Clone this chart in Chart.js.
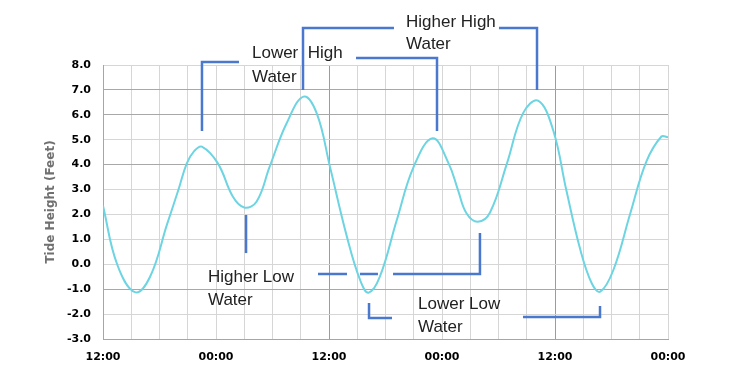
<!DOCTYPE html>
<html>
<head>
<meta charset="utf-8">
<script src="https://cdn.jsdelivr.net/npm/chart.js@4/dist/chart.umd.min.js"></script>
<style>
    body { margin: 0; background: #fff; }
</style>
</head>
<body>
<canvas id="tide_chart" width="750" height="378"></canvas>
<script>
// hours since the first 12:00 and tide height in feet
var hours = [0, 1.5, 3.4, 5.0, 6.8, 8.0, 8.9, 9.7, 10.5, 12.2, 13.8, 15.0, 16.3, 17.7, 19.5, 21.3, 22.7, 24.1, 25.9, 27.3, 28.2, 29.4, 31.2, 33.0, 35.0, 36.7, 37.7, 38.6, 39.8, 41.1, 42.9, 44.6, 46.2, 47.8, 49.2, 50.7, 51.9, 52.8, 54.2, 56.0, 57.7, 59.3, 60];
var heights = [2.35, 0.0, -1.12, -0.5, 1.6, 2.98, 4.05, 4.55, 4.72, 4.05, 2.71, 2.28, 2.51, 3.92, 5.66, 6.73, 6.06, 3.92, 1.11, -0.63, -1.14, -0.5, 1.78, 3.92, 5.06, 4.05, 2.98, 2.05, 1.71, 2.08, 4.05, 6.06, 6.57, 5.39, 2.98, 0.57, -0.76, -1.1, -0.23, 2.05, 4.12, 5.13, 5.1];
var timeLabels = ['12:00', '00:00'];
var yTitle = 'Tide Height (Feet)';

// callout brackets, in [hour, feet]
var brackets = [
    [[10.51, 5.35], [10.51, 8.12], [14.44, 8.12]],
    [[26.87, 8.28], [35.47, 8.28], [35.47, 5.35]],
    [[21.24, 7.0], [21.24, 9.49], [30.90, 9.49]],
    [[42.05, 9.49], [46.09, 9.49], [46.09, 7.0]],
    [[15.19, 1.98], [15.19, 0.45]],
    [[22.83, -0.39], [25.91, -0.39]],
    [[27.29, -0.39], [29.20, -0.39]],
    [[30.80, -0.39], [40.03, -0.39], [40.03, 1.26]],
    [[28.25, -1.55], [28.25, -2.16], [30.69, -2.16]],
    [[44.60, -2.12], [52.78, -2.12], [52.78, -1.68]]
];
var callouts = [
    { text: 'Lower  High', at: [15.82, 8.48] },
    { text: 'Water', at: [15.82, 7.52] },
    { text: 'Higher High', at: [32.18, 9.73] },
    { text: 'Water', at: [32.18, 8.84] },
    { text: 'Higher Low', at: [11.15, -0.51] },
    { text: 'Water', at: [11.15, -1.43] },
    { text: 'Lower Low', at: [33.45, -1.59] },
    { text: 'Water', at: [33.45, -2.52] }
];

var points = hours.map(function (h, i) { return { x: h, y: heights[i] }; });

var calloutPlugin = {
    id: 'callouts',
    afterDraw: function (chart) {
        var c = chart.ctx;
        var xs = chart.scales.x, ys = chart.scales.y;
        c.save();
        c.strokeStyle = '#4a78cf';
        c.lineWidth = 2.5;
        brackets.forEach(function (b) {
            c.beginPath();
            b.forEach(function (p, i) {
                var px = xs.getPixelForValue(p[0]), py = ys.getPixelForValue(p[1]);
                if (i === 0) c.moveTo(px, py); else c.lineTo(px, py);
            });
            c.stroke();
        });
        c.fillStyle = '#222';
        c.font = '17px "Liberation Sans", Arial, sans-serif';
        c.textAlign = 'left';
        c.textBaseline = 'middle';
        callouts.forEach(function (t) {
            c.fillText(t.text, xs.getPixelForValue(t.at[0]), ys.getPixelForValue(t.at[1]));
        });
        c.restore();
    }
};

var tickFont = { family: '"DejaVu Sans", sans-serif', size: 11, weight: 'bold' };

new Chart(document.getElementById('tide_chart'), {
    type: 'line',
    data: {
        datasets: [{
            data: points,
            borderColor: '#6dd4e2',
            borderWidth: 2,
            pointRadius: 0,
            tension: 0.4,
            fill: false
        }]
    },
    options: {
        responsive: false,
        animation: false,
        layout: { padding: { left: 0, right: 82, top: 65, bottom: 0 } },
        plugins: { legend: { display: false }, tooltip: { enabled: false } },
        scales: {
            x: {
                type: 'linear',
                min: 0,
                max: 60,
                afterFit: function (scale) { scale.height = 39; },
                grid: {
                    drawTicks: false,
                    color: function (ctx) {
                        var v = ctx.tick ? ctx.tick.value : 0;
                        return (v === 24 || v === 48) ? '#9c9c9c' : '#d6d6d6';
                    }
                },
                border: { color: '#a6a6a6' },
                ticks: {
                    stepSize: 3,
                    autoSkip: false,
                    maxRotation: 0,
                    padding: 12,
                    color: '#000',
                    font: tickFont,
                    callback: function (v) {
                        if (v % 12 !== 0) return '';
                        return timeLabels[(v / 12) % 2];
                    }
                }
            },
            y: {
                min: -3,
                max: 8,
                afterFit: function (scale) { scale.width = 103; },
                grid: {
                    drawTicks: false,
                    color: function (ctx) {
                        var v = ctx.tick ? ctx.tick.value : 0;
                        return [7, 6, 4, -1].indexOf(v) >= 0 ? '#a8a8a8' : '#d6d6d6';
                    }
                },
                border: { color: '#a6a6a6' },
                ticks: {
                    stepSize: 1,
                    padding: 12,
                    color: '#000',
                    font: tickFont,
                    callback: function (v) { return v.toFixed(1); }
                },
                title: {
                    display: true,
                    text: yTitle,
                    color: '#707070',
                    font: { family: '"DejaVu Sans", sans-serif', size: 12, weight: 'bold' },
                    padding: { top: 44, bottom: 0 }
                }
            }
        }
    },
    plugins: [calloutPlugin]
});
</script>
</body>
</html>
